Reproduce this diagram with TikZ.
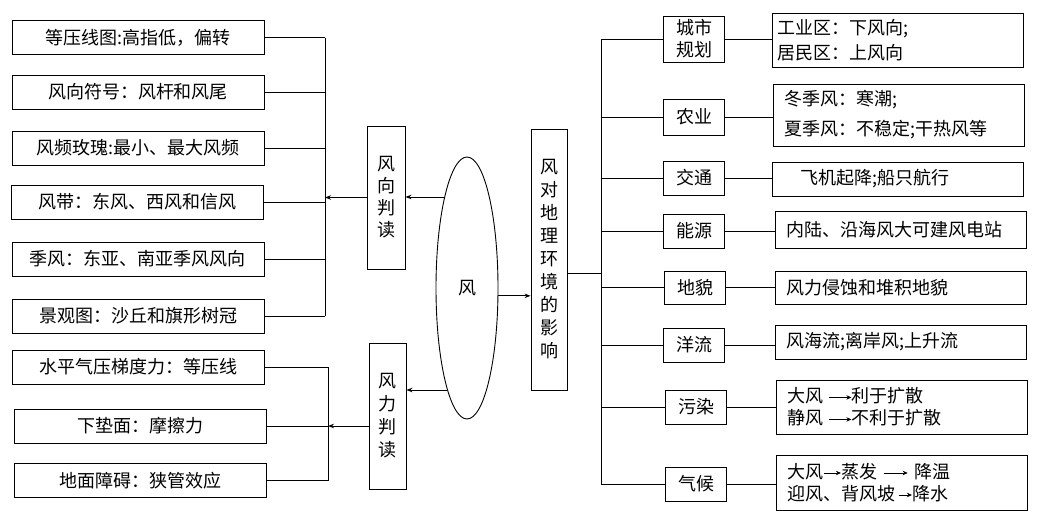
\documentclass[tikz,border=0pt]{standalone}
\usepackage{fontspec}
\setmainfont{Noto Sans CJK SC}
\usetikzlibrary{arrows.meta,shapes.geometric}
\newcommand{\jiantou}[1]{\tikz[baseline=-0.55ex]\draw[line width=0.8pt,-{Stealth[length=5pt,width=4.5pt]}] (0pt,0pt) -- (#1,0pt);}

\tikzset{
	box/.style={draw, line width=0.9pt, inner sep=0pt, align=center, font=\fontsize{18}{22}\selectfont},
	leftbox/.style={box, minimum width=252pt, minimum height=34pt},
	vbox/.style={box, minimum width=37pt},
	catbox/.style={box, minimum width=61pt, minimum height=34pt},
	detailbox/.style={box, minimum width=251pt, text width=229pt, inner xsep=11pt, align=left},
	arr/.style={line width=0.9pt, -{Stealth[length=6pt,width=4.5pt]}},
	line/.style={line width=0.9pt}
}

\begin{document}
\begin{tikzpicture}[x=1pt, y=-1pt]
		%%%%% START %%%%%
		\useasboundingbox (0,0) rectangle (1045,525);
		
		% left: wind direction
		\node[leftbox] (fx1) at (138, 37.5) {等压线图:高指低，偏转};
		\node[leftbox] (fx2) at (138, 92) {风向符号：风杆和风尾};
		\node[leftbox] (fx3) at (138, 148) {风频玫瑰:最小、最大风频};
		\node[leftbox] (fx4) at (137, 202) {风带：东风、西风和信风};
		\node[leftbox] (fx5) at (138, 259) {季风：东亚、南亚季风风向};
		\node[leftbox] (fx6) at (138, 316) {景观图：沙丘和旗形树冠};
		
		% left: wind force
		\node[leftbox] (fl1) at (138, 367) {水平气压梯度力：等压线};
		\node[leftbox] (fl2) at (140.5, 426) {下垫面：摩擦力};
		\node[leftbox] (fl3) at (140.5, 480.5) {地面障碍：狭管效应};
		
		\node[vbox, minimum width=38pt, minimum height=143pt] (fxpd) at (386, 197.5) {风\\向\\判\\读};
		\node[vbox, minimum height=146pt, font=\fontsize{18}{23}\selectfont] (flpd) at (387.5, 416) {风\\力\\判\\读};
		
		\node[draw, ellipse, line width=0.9pt, inner sep=0pt, minimum width=62pt, minimum height=262pt, font=\fontsize{18}{22}\selectfont] (feng) at (467, 288) {风};
		
		\node[vbox, minimum width=36pt, minimum height=261pt, font=\fontsize{18}{23}\selectfont] (yx) at (549, 259.5) {风\\对\\地\\理\\环\\境\\的\\影\\响};
		
		\coordinate (fxbar) at (325, 0);
		\coordinate (flbar) at (328, 0);
		\coordinate (yxbar) at (601, 0);
		
		\foreach \n in {fx1,fx2,fx3,fx4,fx5,fx6}
			\draw[line] (\n.east) -- (\n.east -| fxbar);
		\draw[line] (fx1.east -| fxbar) -- (fx6.east -| fxbar);
		\draw[arr] (fxpd.west) -- (fxpd.west -| fxbar);
		\draw[arr] (feng.104) -- (feng.104 -| fxpd.east);
		
		\foreach \n in {fl1,fl2,fl3}
			\draw[line] (\n.east) -- (\n.east -| flbar);
		\draw[line] (fl1.east -| flbar) -- (fl3.east -| flbar);
		\draw[arr] (flpd.west |- fl2.east) -- (fl2.east -| flbar);
		\draw[arr] (feng.259) -- (feng.259 -| flpd.east);
		
		\draw[arr] (feng.-14.5) -- (feng.-14.5 -| yx.west);
		
		% right: effects
		\node[catbox, minimum height=46pt] (chengshi) at (694, 39) {城市\\规划};
		\node[catbox, minimum height=36pt] (nongye) at (694, 117) {农业};
		\node[catbox] (jiaotong) at (694, 178) {交通};
		\node[catbox] (nengyuan) at (694, 231) {能源};
		\node[catbox, minimum height=33pt] (dimao) at (695, 287.5) {地貌};
		\node[catbox] (yangliu) at (694, 345) {洋流};
		\node[catbox] (wuran) at (696, 407) {污染};
		\node[catbox] (qihou) at (696, 484) {气候};
		
		\node[detailbox, minimum height=54pt, inner xsep=5pt, text width=241pt] (chengshiT) at (898, 40) {工业区：下风向;\\[3pt]居民区：上风向};
		\node[detailbox, minimum height=62pt] (nongyeT) at (899, 115) {冬季风：寒潮;\\[8pt]夏季风：不稳定;干热风等};
		\node[detailbox, minimum height=34pt] (jiaotongT) at (898, 179) {\hspace*{17pt}飞机起降;船只航行};
		\node[detailbox, minimum height=37pt] (nengyuanT) at (901, 229.5) {内陆、沿海风大可建风电站};
		\node[detailbox, minimum height=33pt] (dimaoT) at (901, 287.5) {风力侵蚀和堆积地貌};
		\node[detailbox, minimum height=34pt] (yangliuT) at (901, 342) {风海流;离岸风;上升流};
		\node[detailbox, minimum height=54pt] (wuranT) at (901.5, 407) {大风 \jiantou{22pt}利于扩散\\静风 \jiantou{22pt}不利于扩散};
		\node[detailbox, minimum height=55pt] (qihouT) at (902, 482.5) {大风\jiantou{17pt}蒸发 \jiantou{24pt} 降温\\迎风、背风坡\,\jiantou{13pt}降水};
		
		\draw[line] ([yshift=-13.5pt]yx.east) -- ([yshift=-13.5pt]yx.east -| yxbar);
		\draw[line] (chengshi.west -| yxbar) -- (qihou.west -| yxbar);
		\foreach \a in {chengshi,nongye,jiaotong,nengyuan,dimao,yangliu,wuran,qihou} {
			\draw[line] (\a.west -| yxbar) -- (\a.west);
			\draw[line] (\a.east) -- (\a.east -| \a T.west);
		}
		
		%%%%% END %%%%%
	\end{tikzpicture}
\end{document}
